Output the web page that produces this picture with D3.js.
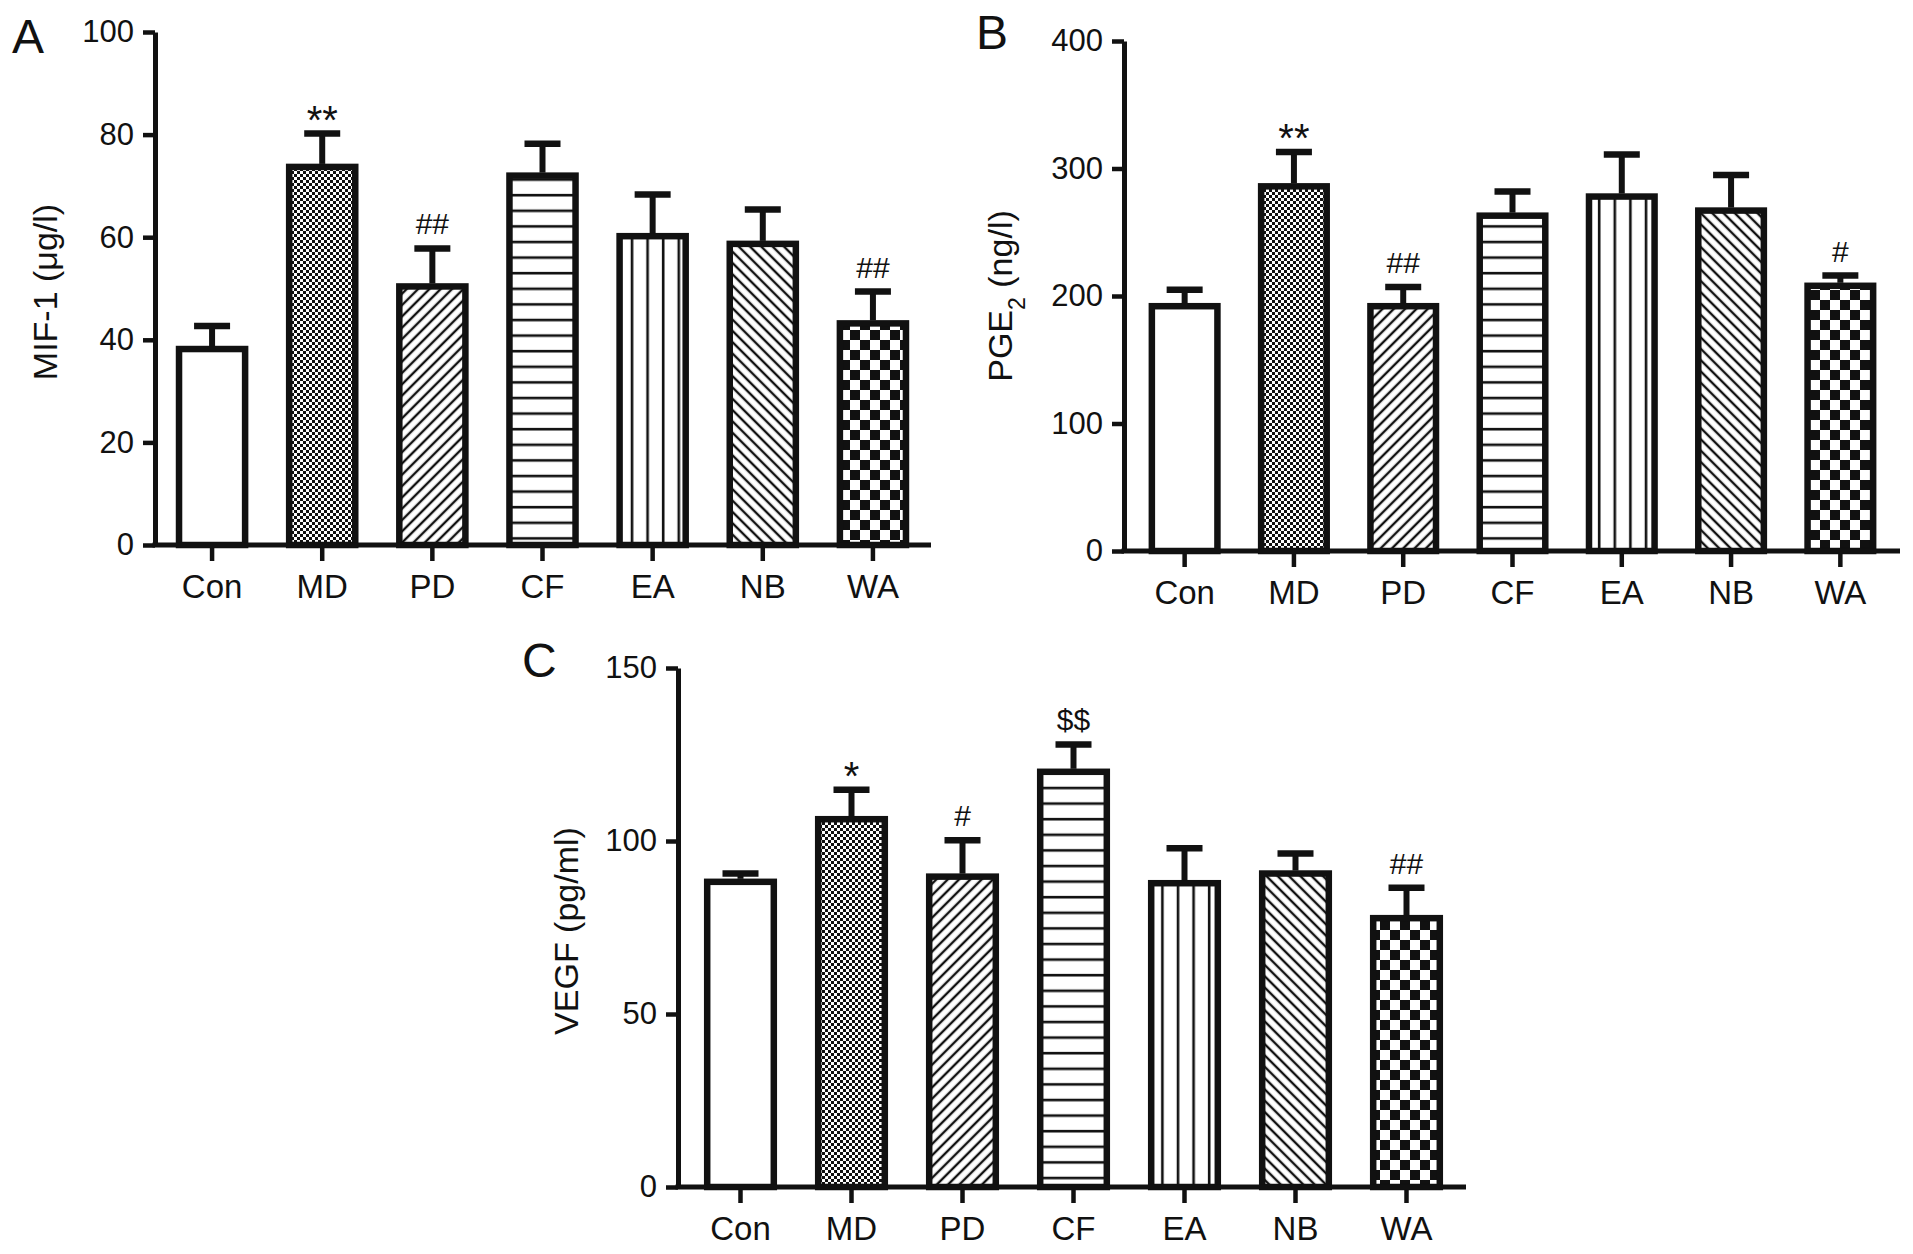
<!DOCTYPE html>
<html>
<head>
<meta charset="utf-8">
<script src="https://cdn.jsdelivr.net/npm/d3@7"></script>
<style>
  body { margin: 0; background: #fff; }
  text { font-family: "Liberation Sans", Arial, Helvetica, sans-serif; fill: #111; }
</style>
</head>
<body>
<div id="chart"></div>
<script>
// groups on every panel
const categories = ['Con', 'MD', 'PD', 'CF', 'EA', 'NB', 'WA'];

// A - MIF-1 (ug/l)
const mifMean = [38.2, 73.7, 50.4, 72.0, 60.2, 58.7, 43.2];
const mifErr = [4.5, 6.5, 7.4, 6.2, 8.1, 6.7, 6.2];
const mifMarks = ['', '**', '##', '', '', '', '##'];
const mifTicks = [0, 20, 40, 60, 80, 100];

// B - PGE2 (ng/l)
const pgeMean = [192, 286, 192, 263, 278, 267, 208];
const pgeErr = [13, 27, 15, 19, 33, 28, 8];
const pgeMarks = ['', '**', '##', '', '', '', '#'];
const pgeTicks = [0, 100, 200, 300, 400];

// C - VEGF (pg/ml)
const vegfMean = [88.2, 106.3, 89.7, 120.0, 87.8, 90.6, 77.7];
const vegfErr = [2.4, 8.5, 10.5, 7.9, 10.1, 5.8, 8.8];
const vegfMarks = ['', '*', '#', '$$', '', '', '##'];
const vegfTicks = [0, 50, 100, 150];

const W = 1913, H = 1254;
const svg = d3.select('#chart').append('svg')
  .attr('width', W).attr('height', H)
  .style('background', '#fff');

// fill patterns, one per group
const defs = svg.append('defs');
function pat(id, w, h, tr) {
  let p = defs.append('pattern').attr('id', id)
    .attr('patternUnits', 'userSpaceOnUse')
    .attr('width', w).attr('height', h);
  if (tr) p.attr('patternTransform', tr);
  p.append('rect').attr('width', w).attr('height', h).attr('fill', '#fff');
  return p;
}
// fine checker (MD)
let p1 = pat('p-md', 6, 6);
p1.append('rect').attr('width', 3).attr('height', 3).attr('fill', '#111');
p1.append('rect').attr('x', 3).attr('y', 3).attr('width', 3).attr('height', 3).attr('fill', '#111');
// "/" hatch (PD)
pat('p-pd', 8, 8, 'rotate(45)').append('line')
  .attr('x1', 4).attr('x2', 4).attr('y1', 0).attr('y2', 8)
  .attr('stroke', '#111').attr('stroke-width', 2.4);
// horizontal lines (CF)
pat('p-cf', 16, 15.6).append('line')
  .attr('x1', 0).attr('x2', 16).attr('y1', 8).attr('y2', 8)
  .attr('stroke', '#111').attr('stroke-width', 2.6);
// vertical lines (EA)
pat('p-ea', 15.6, 16).append('line')
  .attr('x1', 8).attr('x2', 8).attr('y1', 0).attr('y2', 16)
  .attr('stroke', '#111').attr('stroke-width', 2.6);
// "\" hatch (NB)
pat('p-nb', 8, 8, 'rotate(-45)').append('line')
  .attr('x1', 4).attr('x2', 4).attr('y1', 0).attr('y2', 8)
  .attr('stroke', '#111').attr('stroke-width', 2.4);
// big checker (WA)
let p2 = pat('p-wa', 20, 20);
p2.append('rect').attr('width', 10).attr('height', 10).attr('fill', '#111');
p2.append('rect').attr('x', 10).attr('y', 10).attr('width', 10).attr('height', 10).attr('fill', '#111');

const fills = ['#fff', 'url(#p-md)', 'url(#p-pd)', 'url(#p-cf)', 'url(#p-ea)', 'url(#p-nb)', 'url(#p-wa)'];

const panels = [
  { letter: 'A', lx: 12, ly: 53, axisX: 155, axisEnd: 931, band: [157, 928], y0: 545, yTop: 32,
    max: 100, ticks: mifTicks, mean: mifMean, err: mifErr, marks: mifMarks,
    tx: 57, ty: 292, title: [['MIF-1 (μg/l)', false]] },
  { letter: 'B', lx: 976, ly: 49, axisX: 1124, axisEnd: 1900, band: [1130, 1895], y0: 551, yTop: 41,
    max: 400, ticks: pgeTicks, mean: pgeMean, err: pgeErr, marks: pgeMarks,
    tx: 1012, ty: 296, title: [['PGE', false], ['2', true], [' (ng/l)', false]] },
  { letter: 'C', lx: 522, ly: 677, axisX: 678, axisEnd: 1466, band: [685, 1462], y0: 1187, yTop: 668,
    max: 150, ticks: vegfTicks, mean: vegfMean, err: vegfErr, marks: vegfMarks,
    tx: 578, ty: 931, title: [['VEGF (pg/ml)', false]] }
];

panels.forEach(pn => {
  let g = svg.append('g');
  let x = d3.scaleBand().domain(categories).range(pn.band).paddingInner(0.4).paddingOuter(0.2);
  let y = d3.scaleLinear().domain([0, pn.max]).range([pn.y0, pn.yTop]);

  // bars
  g.selectAll('rect.bar').data(categories).enter().append('rect')
    .attr('class', 'bar')
    .attr('x', d => x(d))
    .attr('width', x.bandwidth())
    .attr('y', (d, i) => y(pn.mean[i]))
    .attr('height', (d, i) => y(0) - y(pn.mean[i]))
    .attr('fill', (d, i) => fills[i])
    .attr('stroke', '#111').attr('stroke-width', 6.5);

  // error bars (upper only)
  let cx = d => x(d) + x.bandwidth() / 2;
  g.selectAll('line.stem').data(categories).enter().append('line')
    .attr('x1', cx).attr('x2', cx)
    .attr('y1', (d, i) => y(pn.mean[i]) - 3)
    .attr('y2', (d, i) => y(pn.mean[i] + pn.err[i]))
    .attr('stroke', '#111').attr('stroke-width', 6);
  g.selectAll('line.cap').data(categories).enter().append('line')
    .attr('x1', d => cx(d) - 18).attr('x2', d => cx(d) + 18)
    .attr('y1', (d, i) => y(pn.mean[i] + pn.err[i]))
    .attr('y2', (d, i) => y(pn.mean[i] + pn.err[i]))
    .attr('stroke', '#111').attr('stroke-width', 6.5);

  // significance marks; asterisks drawn larger as in the source figure
  g.selectAll('text.mark').data(categories).enter().append('text')
    .attr('x', cx)
    .attr('y', (d, i) => y(pn.mean[i] + pn.err[i]) - (pn.marks[i].indexOf('*') >= 0 ? 0 : 14))
    .attr('text-anchor', 'middle')
    .style('font-size', (d, i) => pn.marks[i].indexOf('*') >= 0 ? '40px' : '30px')
    .text((d, i) => pn.marks[i]);

  // y axis
  let ya = g.append('g').attr('transform', `translate(${pn.axisX},0)`)
    .call(d3.axisLeft(y).tickValues(pn.ticks).tickSize(12).tickSizeOuter(0).tickPadding(9));
  ya.select('.domain').attr('stroke', '#111').attr('stroke-width', 5);
  ya.selectAll('.tick line').attr('stroke', '#111').attr('stroke-width', 4.5);
  ya.selectAll('.tick text').style('font-size', '31px').style('font-family', null).attr('fill', '#111');

  // x axis
  let xa = g.append('g').attr('transform', `translate(0,${pn.y0})`)
    .call(d3.axisBottom(x).tickSize(16).tickSizeOuter(0).tickPadding(14));
  xa.select('.domain').remove();
  xa.selectAll('.tick line').attr('stroke', '#111').attr('stroke-width', 4.5);
  xa.selectAll('.tick text').style('font-size', '33px').style('font-family', null).attr('fill', '#111');
  g.append('line')
    .attr('x1', pn.axisX - 2.5).attr('x2', pn.axisEnd)
    .attr('y1', pn.y0).attr('y2', pn.y0)
    .attr('stroke', '#111').attr('stroke-width', 5);

  // axis title
  let t = g.append('text')
    .attr('transform', `translate(${pn.tx},${pn.ty}) rotate(-90)`)
    .attr('text-anchor', 'middle')
    .style('font-size', '34px');
  pn.title.forEach(part => {
    let s = t.append('tspan').text(part[0]);
    if (part[1]) s.attr('baseline-shift', 'sub').style('font-size', '23px');
  });

  // panel letter
  g.append('text').attr('x', pn.lx).attr('y', pn.ly)
    .style('font-size', '48px')
    .text(pn.letter);
});
</script>
</body>
</html>
